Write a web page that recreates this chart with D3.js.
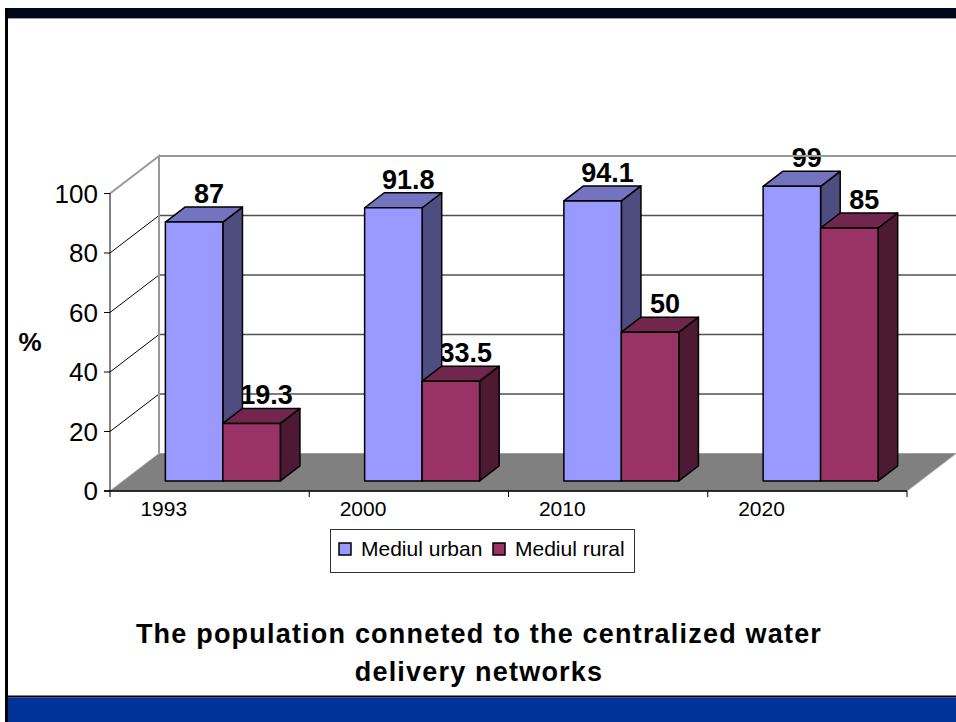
<!DOCTYPE html>
<html>
<head>
<meta charset="utf-8">
<script src="https://cdn.jsdelivr.net/npm/d3@7"></script>
<style>
  body { margin: 0; background: #fff; }
  svg text { font-family: "Liberation Sans", Arial, sans-serif; }
</style>
</head>
<body>
<svg id="chart" width="956" height="722"></svg>
<script>
// chart values
const years = ["1993", "2000", "2010", "2020"];
const series = ["Mediul urban", "Mediul rural"];
const urban = [87, 91.8, 94.1, 99];
const rural = [19.3, 33.5, 50, 85];
const yTicks = [0, 20, 40, 60, 80, 100];

const colors = {
  "Mediul urban": { front: "#9999ff", top: "#7373bf", side: "#4d4d80" },
  "Mediul rural": { front: "#993366", top: "#73264d", side: "#4d1a33" }
};

const svg = d3.select('#chart');

// frame
svg.append('rect').attr('x', 5).attr('y', 8).attr('width', 951).attr('height', 10).attr('fill', '#00081a');
svg.append('line').attr('x1', 8).attr('x2', 956).attr('y1', 18.5).attr('y2', 18.5)
  .attr('stroke', '#a0a0a0').attr('stroke-width', 1);
svg.append('rect').attr('x', 5).attr('y', 8).attr('width', 3).attr('height', 714).attr('fill', '#000');
svg.append('rect').attr('x', 8).attr('y', 695.5).attr('width', 948).attr('height', 2).attr('fill', '#000');
svg.append('rect').attr('x', 8).attr('y', 697.5).attr('width', 948).attr('height', 25).attr('fill', '#003399');

// 3d layout: front plane + depth offset
const depth = { dx: 49, dy: -37.5 };
const x = d3.scaleBand().domain(years).range([110, 907]);
const xs = d3.scaleBand().domain(series).range([0, x.bandwidth()]).paddingOuter(0.733);
const y = d3.scaleLinear().domain([0, 100]).range([491, 193.5]);
const zFront = 0.27, zBack = 0.67;

const x0 = x.range()[0], x1 = x.range()[1];
const pt = (px, py, z) => [px + depth.dx * z, py + depth.dy * z];

// back wall
const wall = svg.append('g');
wall.append('rect')
  .attr('x', x0 + depth.dx).attr('y', y(100) + depth.dy)
  .attr('width', x1 - x0).attr('height', y(0) - y(100))
  .attr('fill', '#fff');

// gridlines on back wall
wall.selectAll('line.grid')
  .data(yTicks.filter(d => d > 0 && d < 100))
  .enter().append('line')
  .attr('class', 'grid')
  .attr('x1', x0 + depth.dx).attr('x2', x1 + depth.dx)
  .attr('y1', d => y(d) + depth.dy).attr('y2', d => y(d) + depth.dy)
  .attr('stroke', '#505050').attr('stroke-width', 1.5);

// side wall lines
wall.selectAll('line.side')
  .data(yTicks.filter(d => d > 0 && d < 100))
  .enter().append('line')
  .attr('class', 'side')
  .attr('x1', x0).attr('y1', d => y(d))
  .attr('x2', x0 + depth.dx).attr('y2', d => y(d) + depth.dy)
  .attr('stroke', '#000').attr('stroke-width', 1);

wall.append('path')
  .attr('d', d3.line()([[x0, y(100)], [x0 + depth.dx, y(100) + depth.dy], [x0 + depth.dx, y(0) + depth.dy]]))
  .attr('fill', 'none').attr('stroke', '#999').attr('stroke-width', 2);

// floor
svg.append('path')
  .attr('d', d3.line()([[x0, y(0)], [x1, y(0)], [x1 + depth.dx, y(0) + depth.dy], [x0 + depth.dx, y(0) + depth.dy]]) + 'Z')
  .attr('fill', '#808080').attr('stroke', '#a0a0a0').attr('stroke-width', 1);

// y axis
const yAxis = svg.append('g');
yAxis.append('line')
  .attr('x1', x0).attr('x2', x0).attr('y1', y(0)).attr('y2', y(100))
  .attr('stroke', '#000');
yAxis.selectAll('line.tick')
  .data(yTicks).enter().append('line')
  .attr('x1', x0 - 6).attr('x2', x0)
  .attr('y1', d => y(d)).attr('y2', d => y(d))
  .attr('stroke', '#000');
yAxis.selectAll('text')
  .data(yTicks).enter().append('text')
  .attr('x', 98).attr('y', d => y(d)).attr('dy', '0.35em')
  .attr('text-anchor', 'end')
  .style('font-size', '26px')
  .text(d => d);

svg.append('text')
  .attr('x', 30).attr('y', y(50)).attr('dy', '0.35em')
  .attr('text-anchor', 'middle')
  .style('font-size', '26px').style('font-weight', 'bold')
  .text('%');

// x axis
const xAxis = svg.append('g');
xAxis.append('line')
  .attr('x1', x0 - 6).attr('x2', x1).attr('y1', y(0)).attr('y2', y(0))
  .attr('stroke', '#000').attr('stroke-width', 1.5);
xAxis.selectAll('line.tick')
  .data(years.map(d => x(d)).concat([x1])).enter().append('line')
  .attr('x1', d => d).attr('x2', d => d)
  .attr('y1', y(0)).attr('y2', y(0) + 6)
  .attr('stroke', '#000');
xAxis.selectAll('text')
  .data(years).enter().append('text')
  .attr('x', d => x(d) + x.bandwidth() * 0.27)
  .attr('y', 516)
  .attr('text-anchor', 'middle')
  .style('font-size', '21px')
  .text(d => d);

// bars
const bars = [];
years.forEach((yr, i) => {
  bars.push({ year: yr, key: series[0], value: urban[i] });
  bars.push({ year: yr, key: series[1], value: rural[i] });
});

function barFaces(d) {
  const bx0 = x(d.year) + xs(d.key);
  const bx1 = bx0 + xs.bandwidth();
  const yt = y(d.value), yb = y(0);
  const fl = pt(bx0, yt, zFront), fr = pt(bx1, yt, zFront);
  const frb = pt(bx1, yb, zFront), flb = pt(bx0, yb, zFront);
  const bl = pt(bx0, yt, zBack), br = pt(bx1, yt, zBack), brb = pt(bx1, yb, zBack);
  return {
    front: [fl, fr, frb, flb],
    top: [fl, bl, br, fr],
    side: [fr, br, brb, frb],
    label: [(fl[0] + fr[0]) / 2 + 15, bl[1] - 4]
  };
}

const poly = p => d3.line()(p) + 'Z';

// labels under the bars
svg.append('g').selectAll('text')
  .data(bars).enter().append('text')
  .attr('x', d => barFaces(d).label[0])
  .attr('y', d => barFaces(d).label[1])
  .attr('text-anchor', 'middle')
  .style('font-size', '27px').style('font-weight', 'bold')
  .text(d => d.value);

const barG = svg.append('g').selectAll('g')
  .data(bars).enter().append('g');

['side', 'top', 'front'].forEach(face => {
  barG.append('path')
    .attr('d', d => poly(barFaces(d)[face]))
    .attr('fill', d => colors[d.key][face])
    .attr('stroke', '#000').attr('stroke-width', 1.5)
    .attr('stroke-linejoin', 'round');
});

// wall top edge over labels
svg.append('line')
  .attr('x1', x0 + depth.dx).attr('x2', 956)
  .attr('y1', y(100) + depth.dy).attr('y2', y(100) + depth.dy)
  .attr('stroke', '#999').attr('stroke-width', 2);

// legend
const legend = svg.append('g');
legend.append('rect')
  .attr('x', 330.5).attr('y', 529.5).attr('width', 304).attr('height', 43)
  .attr('fill', '#fff').attr('stroke', '#333');
const legendX = [339, 493];
series.forEach((s, i) => {
  legend.append('rect')
    .attr('x', legendX[i]).attr('y', 543).attr('width', 12).attr('height', 12)
    .attr('fill', colors[s].front).attr('stroke', '#000').attr('stroke-width', 1.5);
  legend.append('text')
    .attr('x', legendX[i] + 22).attr('y', 556)
    .style('font-size', '21px')
    .text(s);
});

// title
const title = svg.append('text')
  .attr('text-anchor', 'middle')
  .style('font-size', '27px').style('font-weight', 'bold')
  .style('letter-spacing', '1.2px');
title.append('tspan').attr('x', 479).attr('y', 643)
  .text('The population conneted to the centralized water');
title.append('tspan').attr('x', 479).attr('y', 681)
  .text('delivery networks');
</script>
</body>
</html>
